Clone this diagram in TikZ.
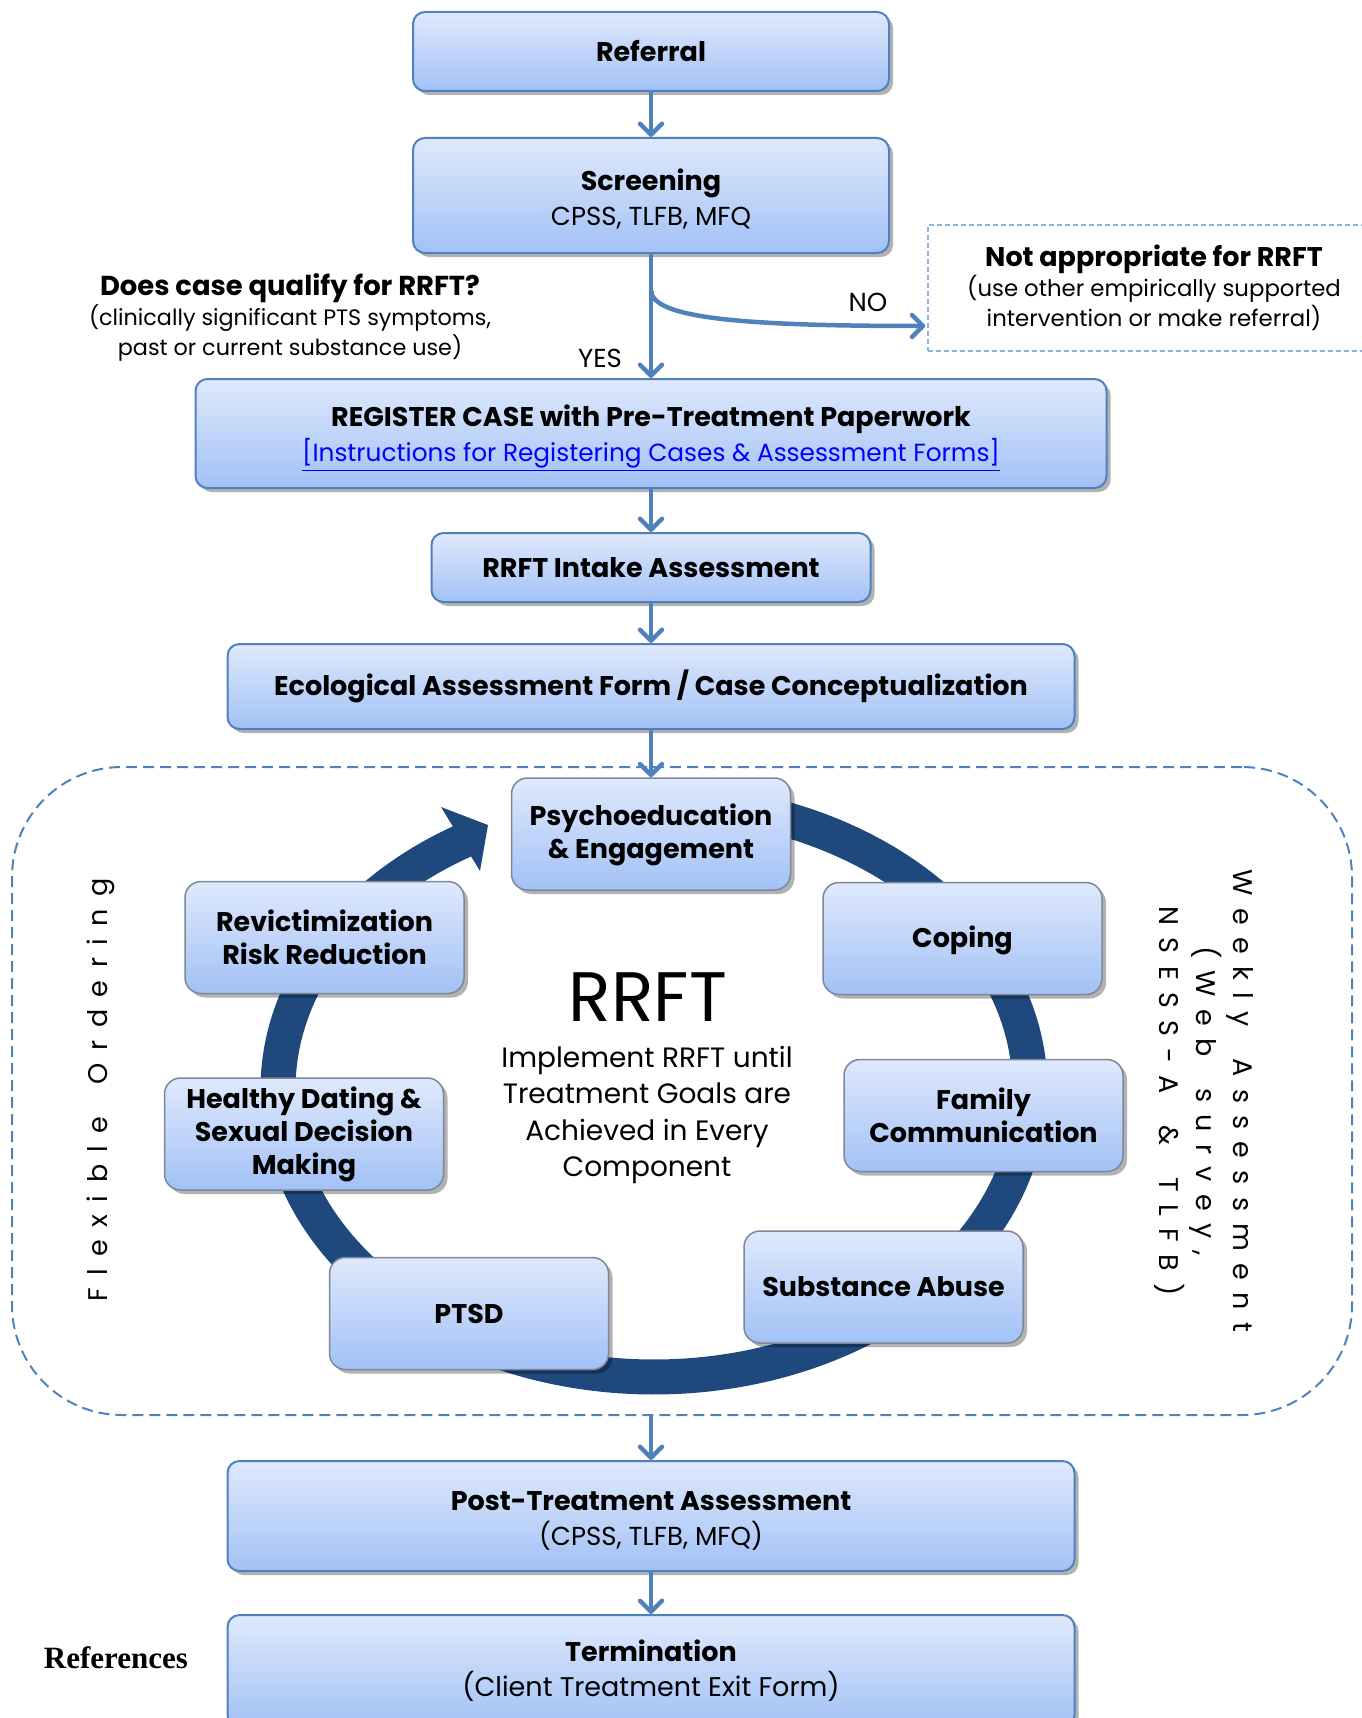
\documentclass[tikz,border=0pt]{standalone}
\usepackage{fontspec}
\setmainfont{Poppins}
\newfontfamily\reffont{Liberation Serif}
\usetikzlibrary{arrows.meta,shadows,calc}
\definecolor{boxborder}{RGB}{79,129,189}
\definecolor{boxtop}{RGB}{223,233,252}
\definecolor{boxbot}{RGB}{162,193,246}
\definecolor{cycborder}{RGB}{125,135,155}
\definecolor{ringblue}{RGB}{31,73,125}
\definecolor{arrowblue}{RGB}{79,129,189}
\definecolor{dashblue}{RGB}{141,180,226}
\definecolor{linkblue}{RGB}{0,0,255}
\makeatletter
\newcommand\spreadtext[2]{\def\spr@k{#1}\@tfor\spr@c:=#2\do{\spr@c\kern\spr@k}\kern-\spr@k}
\makeatother
\newcommand\ttl[1]{{\fontsize{27}{34}\selectfont\bfseries #1}}
\newcommand\lift[1]{\rule{0pt}{#1}}
\tikzset{
  boxshade/.style={top color=boxtop, bottom color=boxbot,
    drop shadow={shadow xshift=4pt, shadow yshift=-4pt, opacity=0.3, fill=black}},
  flowbox/.style={boxshade, draw=boxborder, line width=2pt, rounded corners=12pt,
    align=center, inner sep=0pt, font=\fontsize{26}{35}\selectfont},
  cyclebox/.style={boxshade, draw=cycborder, line width=1.5pt, rounded corners=16pt,
    align=center, inner sep=0pt, minimum width=279pt, minimum height=112pt,
    font=\fontsize{27}{33}\selectfont\bfseries},
  flowarrow/.style={draw=arrowblue, line width=4.5pt,
    -{Straight Barb[length=11pt,width=22pt,round]}},
  plain/.style={align=center, inner sep=0pt},
}
\begin{document}
\begin{tikzpicture}[x=1pt,y=-1pt]
\useasboundingbox (0,0) rectangle (1361,1718);

% container
\node[draw=boxborder, line width=2pt, dash pattern=on 11pt off 6pt,
  rounded corners=110pt, minimum width=1340pt, minimum height=648pt] (cont) at (682,1091) {};

% ring
\draw[ringblue, line width=35pt] plot[domain=-241:80, samples=140, smooth]
  ({654+376*cos(\x)},{1089-288*sin(\x)});
\fill[ringblue] (441,807) -- (488,825) -- (480,871) -- cycle;

% flow boxes
\node[flowbox, minimum width=476pt, minimum height=79pt] (referral) at (651,51.5) {\ttl{Referral}};
\node[flowbox, minimum width=476pt, minimum height=115pt] (screening) at (651,195.5)
  {\lift{28pt}\ttl{Screening}\\CPSS, TLFB, MFQ};
\node[flowbox, minimum width=911pt, minimum height=109pt] (register) at (651,433.5)
  {\lift{30pt}\ttl{REGISTER CASE with Pre-Treatment Paperwork}\\
   {\fontsize{24.8}{34}\selectfont\textcolor{linkblue}{\underline{[Instructions for Registering Cases \& Assessment Forms]}}}};
\node[flowbox, minimum width=439pt, minimum height=69pt] (intake) at (651,567.5)
  {\ttl{RRFT Intake Assessment}};
\node[flowbox, minimum width=847pt, minimum height=85pt] (eco) at (651,686.5)
  {\ttl{Ecological Assessment Form / Case Conceptualization}};
\node[flowbox, minimum width=847pt, minimum height=110pt] (post) at (651,1516)
  {\lift{28pt}\ttl{Post-Treatment Assessment}\\(CPSS, TLFB, MFQ)};
\node[flowbox, minimum width=847pt, minimum height=112pt] (term) at (651,1671)
  {\ttl{Termination}\\{\fontsize{27}{35}\selectfont (Client Treatment Exit Form)}};

% not appropriate box
\node[draw=dashblue, line width=1.5pt, dash pattern=on 5pt off 3pt, align=center,
  minimum width=452pt, minimum height=126pt, inner sep=0pt,
  font=\fontsize{22.8}{30}\selectfont] (na) at (1154,288)
  {{\fontsize{27}{30}\selectfont\bfseries Not appropriate for RRFT}\\
   (use other empirically supported\\intervention or make referral)};

% question text
\node[plain, font=\fontsize{22.3}{30}\selectfont] (question) at (290,317)
  {{\fontsize{27.4}{30}\selectfont\bfseries Does case qualify for RRFT?}\\
   (clinically significant PTS symptoms,\\past or current substance use)};
\node[plain, font=\fontsize{26}{30}\selectfont] (yes) at (600,358) {YES};
\node[plain, font=\fontsize{26}{30}\selectfont] (no) at (868,302) {NO};

% cycle boxes
\node[cyclebox] (psych) at (651,834) {\lift{24pt}Psychoeducation\\\& Engagement};
\node[cyclebox] (coping) at (962.5,938.5) {\lift{26pt}Coping};
\node[cyclebox] (family) at (983.5,1115.5) {Family\\Communication};
\node[cyclebox] (subst) at (883.5,1287) {Substance Abuse};
\node[cyclebox] (ptsd) at (469,1313.5) {PTSD};
\node[cyclebox] (dating) at (304,1134) {\lift{23pt}Healthy Dating \&\\Sexual Decision\\Making};
\node[cyclebox] (revict) at (324.5,937.5) {Revictimization\\Risk Reduction};

% centre text
\node[plain, font=\fontsize{70}{76}\selectfont] (rrft) at (648,997) {RRFT};
\node[plain, font=\fontsize{28}{36.3}\selectfont] (impl) at (647,1115)
  {Implement RRFT until\\Treatment Goals are\\Achieved in Every\\Component};

% side texts
\node[plain, rotate=90, font=\fontsize{27}{37}\selectfont] (flex) at (101,1090)
  {\spreadtext{12.5pt}{Flexible~Ordering}};
\node[plain, rotate=-90, font=\fontsize{27}{37}\selectfont] (weekly) at (1204,1101)
  {\spreadtext{12.3pt}{Weekly~Assessment}\\
   \spreadtext{12.3pt}{(Web~survey,}\\
   \spreadtext{12.3pt}{NSESS-A~\&~TLFB)}};

\node[plain, font=\fontsize{31}{34}\selectfont\reffont\bfseries] (refs) at (116,1658) {References};

% arrows
\coordinate (split) at (651,290);
\draw[flowarrow] (referral.south) -- (screening.north);
\draw[flowarrow] (screening.south) -- (register.north);
\draw[flowarrow] (split) .. controls (651,318) and (740,326) .. ($(na.west)+(-2,38)$);
\draw[flowarrow] (register.south) -- (intake.north);
\draw[flowarrow] (intake.south) -- (eco.north);
\draw[flowarrow] (eco.south) -- (psych.north);
\draw[flowarrow] (cont.south -| post.north) -- (post.north);
\draw[flowarrow] (post.south) -- (term.north);
\end{tikzpicture}
\end{document}
